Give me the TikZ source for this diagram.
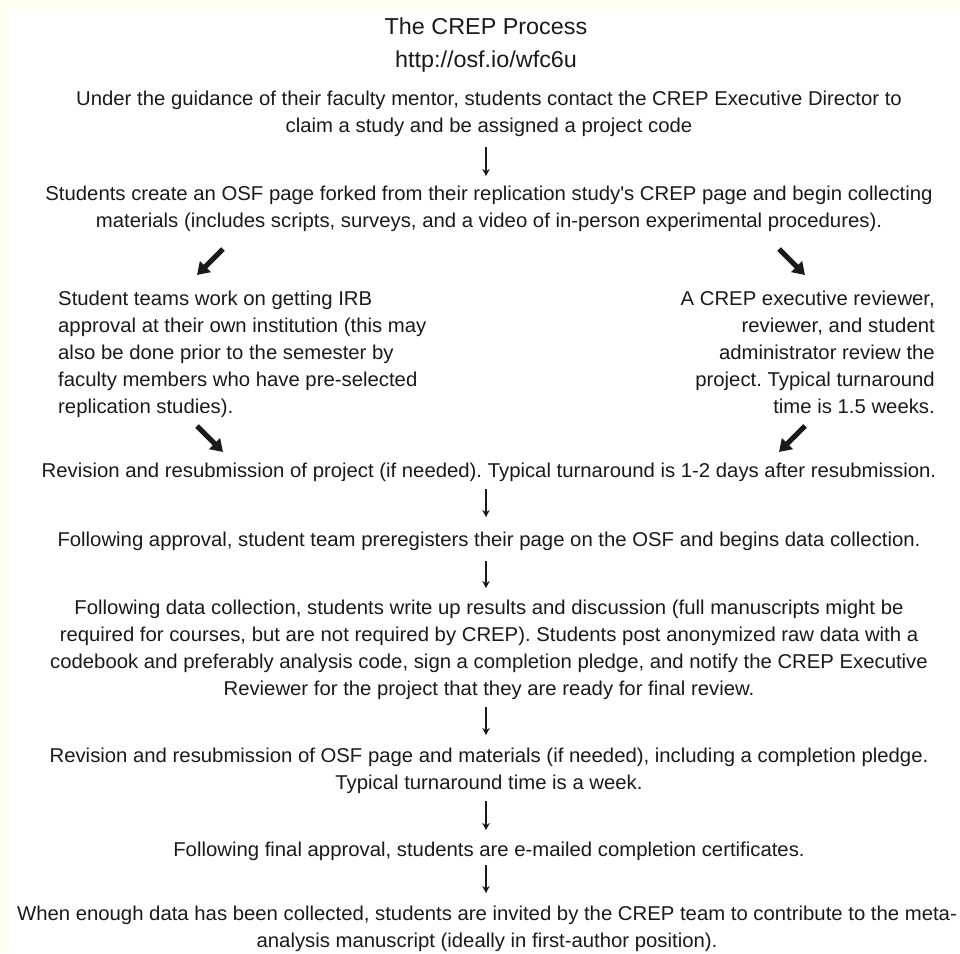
\documentclass[tikz,border=0pt]{standalone}
\usepackage{fontspec}
\usetikzlibrary{arrows.meta}
\newfontfamily\bodyfont[FakeStretch=1.016]{Liberation Sans}
\definecolor{ink}{HTML}{1A1A1A}
\definecolor{cream}{HTML}{FFFFF0}
\frenchspacing
\begin{document}
\begin{tikzpicture}[x=1pt,y=-1pt,
  txt/.style={inner sep=0pt, text=ink, font=\bodyfont\frenchspacing\fontsize{20}{27}\selectfont},
  ttl/.style={inner sep=0pt, text=ink, font=\bodyfont\frenchspacing\fontsize{23}{27}\selectfont},
  dn/.style={draw=ink, line width=1.8pt, -{Stealth[length=7pt,width=7.5pt]}},
  diag/.style={draw=ink, line width=5pt, -{Triangle[length=12pt,width=15pt]}}]
\fill[cream] (0,0) rectangle (960,953);
\fill[white] (8,9) rectangle (960,953);
\useasboundingbox (0,0) rectangle (960,953);
\coordinate (ax) at (486,0);
\node[ttl, anchor=north] (title) at (486,18) {The CREP Process};
\node[ttl, anchor=north] (url) at (486,51) {http://osf.io/wfc6u};
\node[txt, anchor=north, align=center] (n1) at (489,91) {Under the guidance of their faculty mentor, students contact the CREP Executive Director to\\claim a study and be assigned a project code};
\node[txt, anchor=north, align=center] (n2) at (489,186) {Students create an OSF page forked from their replication study's CREP page and begin collecting\\materials (includes scripts, surveys, and a video of in-person experimental procedures).};
\node[txt, anchor=north west, align=left] (lb) at (58,291) {Student teams work on getting IRB\\approval at their own institution (this may\\also be done prior to the semester by\\faculty members who have pre-selected\\replication studies).};
\node[txt, anchor=north east, align=right] (rb) at (935,291) {A CREP executive reviewer,\\reviewer, and student\\administrator review the\\project. Typical turnaround\\time is 1.5 weeks.};
\node[txt, anchor=north, align=center] (n3) at (489,463) {Revision and resubmission of project (if needed). Typical turnaround is 1-2 days after resubmission.};
\node[txt, anchor=north, align=center] (n4) at (489,532) {Following approval, student team preregisters their page on the OSF and begins data collection.};
\node[txt, anchor=north, align=center] (n5) at (489,600) {Following data collection, students write up results and discussion (full manuscripts might be\\required for courses, but are not required by CREP). Students post anonymized raw data with a\\codebook and preferably analysis code, sign a completion pledge, and notify the CREP Executive\\Reviewer for the project that they are ready for final review.};
\node[txt, anchor=north, align=center] (n6) at (489,748) {Revision and resubmission of OSF page and materials (if needed), including a completion pledge.\\Typical turnaround time is a week.};
\node[txt, anchor=north, align=center] (n7) at (489,842) {Following final approval, students are e-mailed completion certificates.};
\node[txt, anchor=north, align=center] (n8) at (487,906) {When enough data has been collected, students are invited by the CREP team to contribute to the meta-\\analysis manuscript (ideally in first-author position).};
\coordinate (l1s) at (223,249); \coordinate (l1e) at (197,275);
\coordinate (r1s) at (779,249); \coordinate (r1e) at (805,275);
\coordinate (l2s) at (197,426); \coordinate (l2e) at (223,452);
\coordinate (r2s) at (805,426); \coordinate (r2e) at (779,452);
\draw[diag] (l1s) -- (l1e);
\draw[diag] (r1s) -- (r1e);
\draw[diag] (l2s) -- (l2e);
\draw[diag] (r2s) -- (r2e);
\draw[dn, shorten <=10pt, shorten >=10pt] (n1.south -| ax) -- (n2.north -| ax);
\draw[dn, shorten <=7pt, shorten >=15pt] (n3.south -| ax) -- (n4.north -| ax);
\draw[dn, shorten <=10pt, shorten >=12pt] (n4.south -| ax) -- (n5.north -| ax);
\draw[dn, shorten <=7pt, shorten >=13pt] (n5.south -| ax) -- (n6.north -| ax);
\draw[dn, shorten <=7pt, shorten >=12pt] (n6.south -| ax) -- (n7.north -| ax);
\draw[dn, shorten <=4pt, shorten >=13pt] (n7.south -| ax) -- (n8.north -| ax);
\end{tikzpicture}
\end{document}
